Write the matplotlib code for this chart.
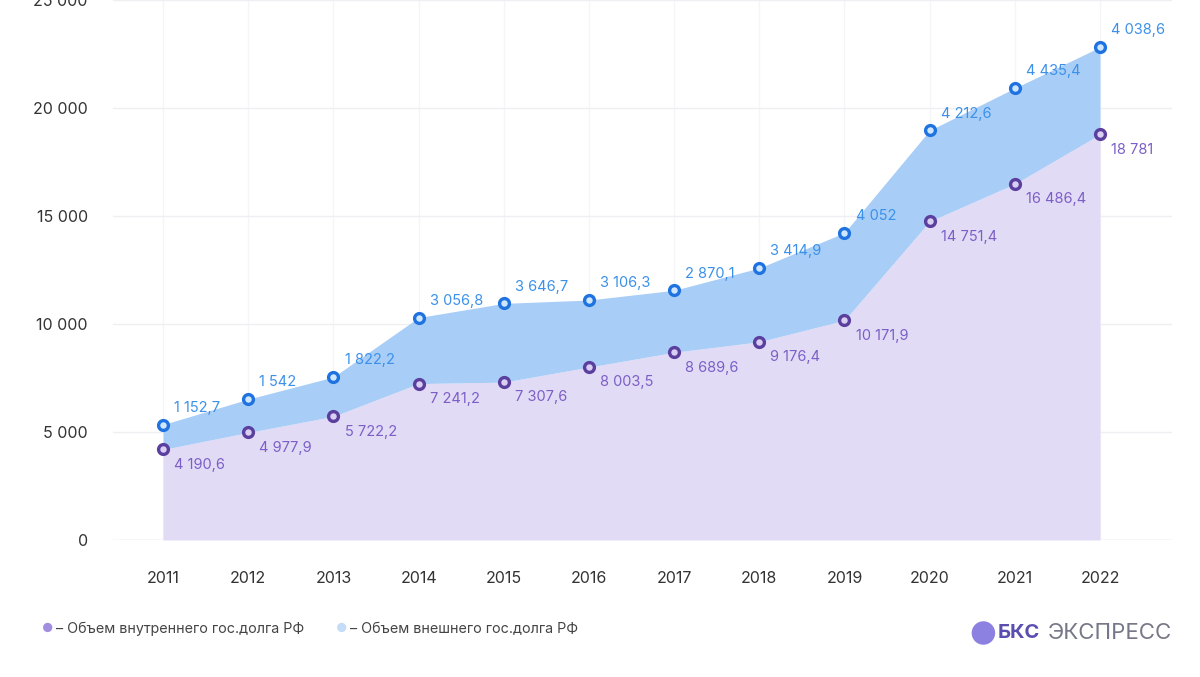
import numpy as np
import matplotlib
matplotlib.use('Agg')
import matplotlib.pyplot as plt
from matplotlib.patches import Ellipse

years = ['2011', '2012', '2013', '2014', '2015', '2016', '2017', '2018', '2019', '2020', '2021', '2022']
internal_debt = [4190.6, 4977.9, 5722.2, 7241.2, 7307.6, 8003.5, 8689.6, 9176.4, 10171.9, 14751.4, 16486.4, 18781]
external_debt = [1152.7, 1542, 1822.2, 3056.8, 3646.7, 3106.3, 2870.1, 3414.9, 4052, 4212.6, 4435.4, 4038.6]
internal_labels = ['4 190,6', '4 977,9', '5 722,2', '7 241,2', '7 307,6', '8 003,5', '8 689,6',
                   '9 176,4', '10 171,9', '14 751,4', '16 486,4', '18 781']
external_labels = ['1 152,7', '1 542', '1 822,2', '3 056,8', '3 646,7', '3 106,3', '2 870,1',
                   '3 414,9', '4 052', '4 212,6', '4 435,4', '4 038,6']
y_ticks = [0, 5000, 10000, 15000, 20000, 25000]
y_tick_labels = ['0', '5 000', '10 000', '15 000', '20 000', '25 000']
legend_labels = ['– Объем внутреннего гос.долга РФ', '– Объем внешнего гос.долга РФ']

plt.rcParams['font.family'] = ['Inter', 'DejaVu Sans']

purple_fill = '#e2dbf6'
blue_fill = '#a8cdf6'
purple_dark = '#5b3f9e'
blue_dark = '#1f73e0'
purple_text = '#7b5fc6'
blue_text = '#3b91ea'

x = np.arange(len(years))
internal = np.array(internal_debt)
total = internal + np.array(external_debt)

fig = plt.figure(figsize=(12, 6.77), dpi=100)
ax = fig.add_axes([0.094, 0.2024, 0.883, 0.7976])

ax.fill_between(x, 0, internal, color=purple_fill, lw=0, zorder=2)
ax.fill_between(x, internal, total, color=blue_fill, lw=0, zorder=2)

# ring markers
ax.scatter(x, total, s=50, color='#cfe6ff', edgecolor=blue_dark, linewidth=2.4, zorder=4)
ax.scatter(x, internal, s=50, color='#d9cff2', edgecolor=purple_dark, linewidth=2.4, zorder=4)

for i in range(len(years)):
    ax.annotate(external_labels[i], (x[i], total[i]), xytext=(8, 7), textcoords='offset points',
                ha='left', va='bottom', fontsize=10.5, color=blue_text, zorder=5)
    ax.annotate(internal_labels[i], (x[i], internal[i]), xytext=(8, -6), textcoords='offset points',
                ha='left', va='top', fontsize=10.5, color=purple_text, zorder=5)

ax.set_xlim(-0.59, 11.85)
ax.set_ylim(0, 25000)
ax.set_xticks(x)
ax.set_xticklabels(years)
ax.set_yticks(y_ticks)
ax.set_yticklabels(y_tick_labels)
ax.tick_params(axis='both', length=0, labelsize=11.5, labelcolor='#333333')
ax.tick_params(axis='x', pad=22)
ax.tick_params(axis='y', pad=18)
ax.grid(True, axis='y', color='#efeff3', lw=1, zorder=0)
ax.grid(True, axis='x', color='#f5f5f8', lw=1, zorder=0)
for s in ax.spines.values():
    s.set_visible(False)
ax.axhline(0, color='#e6e6ec', lw=1, zorder=1)

# legend
fig.text(0.035, 0.071, '●', color='#a08fe0', fontsize=9, va='center', ha='left')
fig.text(0.047, 0.071, legend_labels[0], color='#444444', fontsize=10.3, va='center', ha='left')
fig.text(0.280, 0.071, '●', color='#c4dcf7', fontsize=9, va='center', ha='left')
fig.text(0.292, 0.071, legend_labels[1], color='#444444', fontsize=10.3, va='center', ha='left')

# logo
r = 0.0092
logo = Ellipse((0.8195, 0.065), 2 * r, 2 * r * 1200 / 677, transform=fig.transFigure,
               color='#8c80e0', zorder=3)
fig.patches.append(logo)
fig.text(0.831, 0.065, 'БКС', color='#5a4fb0', fontsize=14.5, fontweight='bold', va='center', ha='left')
fig.text(0.873, 0.065, 'ЭКСПРЕСС', color='#777788', fontsize=16, va='center', ha='left')

fig.savefig('out.png', dpi=100, facecolor='white')
